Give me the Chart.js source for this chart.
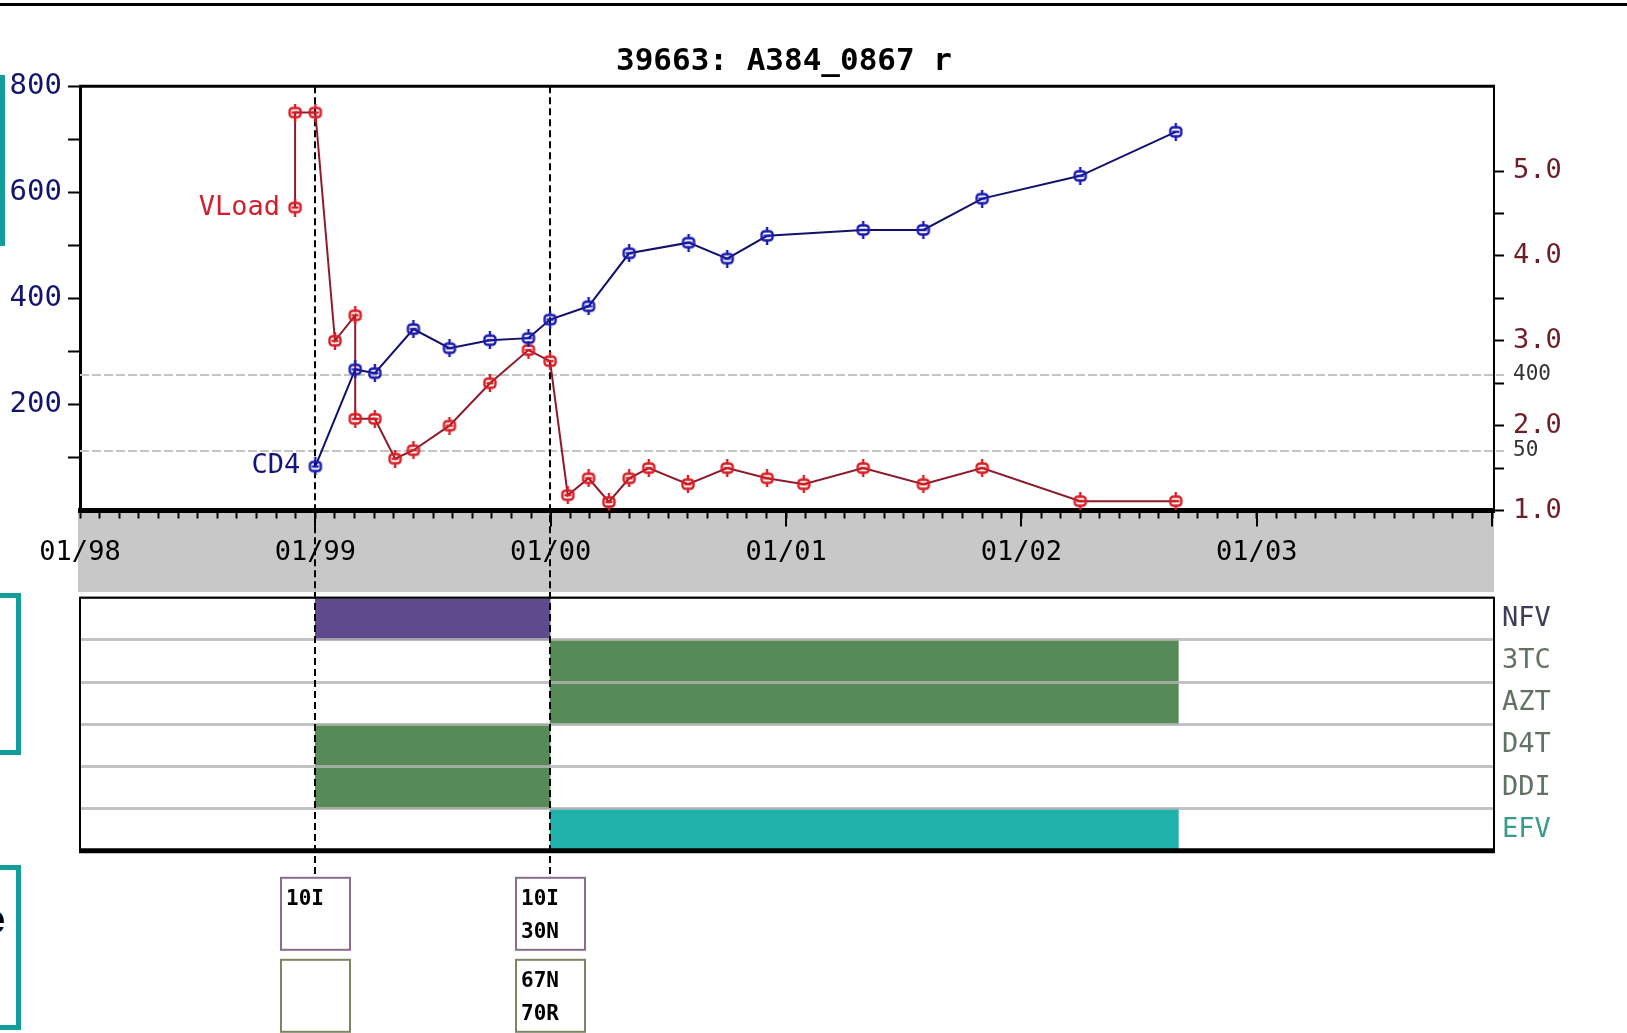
<!DOCTYPE html>
<html lang="en">
<head>
<meta charset="utf-8">
<title>39663: A384_0867</title>
<script src="https://cdn.jsdelivr.net/npm/chart.js@4.4.1/dist/chart.umd.min.js"></script>
<style>
  html, body { margin: 0; padding: 0; background: #fff; }
  body { position: relative; width: 1627px; height: 1033px; overflow: hidden; }
  #rule { position: absolute; left: 0; top: 3px; width: 1627px; height: 3px; background: #000; }
  .edge { position: absolute; left: 0; background: #129c9a; }
  .bracket { position: absolute; left: 0; width: 21px; box-sizing: border-box;
             border: 5px solid #129c9a; border-left: none; }
  #clipped { position: absolute; left: -17px; top: 899px; font: bold 40px "Liberation Sans", sans-serif;
             line-height: 1; color: #000; }
  canvas { position: absolute; left: 0; }
  #timeline { top: 0; }
  #therapy { top: 592px; }
</style>
</head>
<body>
<div id="rule"></div>
<div class="edge" style="top:75px;width:5px;height:171px"></div>
<div class="bracket" style="top:593px;height:162px"></div>
<div class="bracket" style="top:865px;height:165px"></div>
<div id="clipped">e</div>
<canvas id="timeline" width="1568" height="592"></canvas>
<canvas id="therapy" width="1568" height="441"></canvas>
<script>
// ---- patient record ----
const CD4_DATES = ['1999-01-01','1999-03-02','1999-04-02','1999-06-01','1999-07-27','1999-09-28',
  '1999-11-27','1999-12-31','2000-02-28','2000-05-01','2000-08-02','2000-10-01','2000-12-02',
  '2001-04-29','2001-08-01','2001-11-01','2002-04-01','2002-08-28'];
const CD4_COUNTS = [83, 266, 259, 342, 306, 321, 325, 360, 385, 485, 505, 475, 518, 529, 529, 588, 631, 714];

const VLOAD_DATES = ['1998-11-30','1998-11-30','1999-01-01','1999-02-01','1999-03-02','1999-03-02',
  '1999-04-02','1999-05-03','1999-06-01','1999-07-27','1999-09-28','1999-11-27','1999-12-31',
  '2000-01-28','2000-02-28','2000-03-31','2000-05-01','2000-06-01','2000-08-01','2000-10-01',
  '2000-12-02','2001-01-29','2001-04-29','2001-08-01','2001-11-01','2002-04-01','2002-08-28'];
const VLOAD_LOG10 = [4.57, 5.69, 5.69, 3.00, 3.30, 2.08, 2.08, 1.61, 1.71, 2.00, 2.50, 2.89, 2.76,
  1.18, 1.38, 1.10, 1.38, 1.50, 1.31, 1.50, 1.38, 1.31, 1.50, 1.31, 1.50, 1.11, 1.11];

const REF_LOADS = [400, 50];

const EVENT_DATES = ['1999-01-01', '1999-12-31'];
const PR_MUTATIONS = [['10I'], ['10I', '30N']];
const RT_MUTATIONS = [[], ['67N', '70R']];

const DRUGS = ['NFV', '3TC', 'AZT', 'D4T', 'DDI', 'EFV'];
const DRUG_STARTS = ['1999-01-01', '1999-12-31', '1999-12-31', '1999-01-01', '1999-01-01', '1999-12-31'];
const DRUG_STOPS  = ['1999-12-31', '2002-09-01', '2002-09-01', '1999-12-31', '1999-12-31', '2002-09-01'];

const X_START = '1998-01-01';
const X_END = '2004-01-04';
const X_TICK_LABELS = ['01/98', '01/99', '01/00', '01/01', '01/02', '01/03'];
const CD4_TICK_LABELS = ['200', '400', '600', '800'];
const VL_TICK_LABELS = ['1.0', '2.0', '3.0', '4.0', '5.0'];
const TITLE = '39663: A384_0867 r';

// ---- styling ----
const DRUG_COLORS = ['#5e4a8c', '#568a56', '#568a56', '#568a56', '#568a56', '#20b2aa'];
const DRUG_LABEL_COLORS = ['#3c3c5c', '#627262', '#627262', '#627262', '#627262', '#3a9a8c'];
const MONO = "'DejaVu Sans Mono', monospace";

// months elapsed since the start of the time axis
function toMonths(iso) {
  const [y, m, d] = iso.split('-').map(Number);
  const [y0, m0] = X_START.split('-').map(Number);
  const dim = new Date(Date.UTC(y, m, 0)).getUTCDate();
  return (y - y0) * 12 + (m - m0) + (d - 1) / dim;
}
const X_MIN = toMonths(X_START);
const X_MAX = toMonths(X_END);

// rounded box marker with a centre bar and short stubs above and below
function marker(color) {
  const c = document.createElement('canvas');
  c.width = 16; c.height = 18;
  const g = c.getContext('2d');
  g.strokeStyle = color; g.lineWidth = 2.4;
  g.beginPath();
  g.roundRect(2.5, 4.5, 11, 9, 3);
  g.moveTo(8, 0); g.lineTo(8, 4.5);
  g.moveTo(8, 13.5); g.lineTo(8, 18);
  g.moveTo(4.5, 9); g.lineTo(11.5, 9);
  g.stroke();
  return c;
}

const timelineDecor = {
  id: 'timelineDecor',
  beforeDraw(chart) {
    const { ctx, chartArea: a } = chart;
    ctx.save();
    ctx.fillStyle = '#c8c8c8';
    ctx.fillRect(a.left - 2, a.bottom, a.right - a.left + 2, chart.height - a.bottom);
    ctx.restore();
  },
  beforeDatasetsDraw(chart) {
    const { ctx, chartArea: a, scales } = chart;
    ctx.save();
    // viral-load reference levels
    ctx.strokeStyle = '#c4c4c4';
    ctx.lineWidth = 2;
    ctx.setLineDash([9, 3]);
    ctx.font = '21px ' + MONO;
    ctx.fillStyle = '#333';
    ctx.textBaseline = 'middle';
    ctx.textAlign = 'left';
    REF_LOADS.forEach(v => {
      const y = Math.round(scales.yR.getPixelForValue(Math.log10(v)));
      ctx.beginPath(); ctx.moveTo(a.left, y); ctx.lineTo(a.right + 10, y); ctx.stroke();
      ctx.fillText(String(v), a.right + 19, y);
    });
    // longer year ticks
    ctx.setLineDash([]);
    ctx.strokeStyle = '#000';
    for (let m = 12; m < X_MAX; m += 12) {
      const x = Math.round(scales.x.getPixelForValue(m));
      ctx.beginPath(); ctx.moveTo(x, a.bottom); ctx.lineTo(x, a.bottom + 16); ctx.stroke();
    }
    // therapy change lines
    ctx.setLineDash([7, 4]);
    EVENT_DATES.forEach(d => {
      const x = Math.round(scales.x.getPixelForValue(toMonths(d)));
      ctx.beginPath(); ctx.moveTo(x, a.top); ctx.lineTo(x, chart.height); ctx.stroke();
    });
    ctx.restore();
  },
  afterDatasetsDraw(chart) {
    const { ctx, chartArea: a } = chart;
    ctx.save();
    ctx.strokeStyle = '#000';
    ctx.lineWidth = 3;
    ctx.beginPath(); ctx.moveTo(a.left - 1, a.top); ctx.lineTo(a.right + 1, a.top); ctx.stroke();
    ctx.font = '27px ' + MONO;
    ctx.textAlign = 'right';
    ctx.textBaseline = 'middle';
    chart.data.datasets.forEach((ds, i) => {
      const p = chart.getDatasetMeta(i).data[0];
      ctx.fillStyle = ds.nameColor;
      ctx.fillText(ds.label, p.x - 15, p.y);
    });
    ctx.restore();
  }
};

new Chart(document.getElementById('timeline'), {
  type: 'line',
  data: {
    datasets: [
      {
        label: 'CD4',
        yAxisID: 'yL',
        data: CD4_DATES.map((d, i) => ({ x: toMonths(d), y: CD4_COUNTS[i] })),
        borderColor: '#12126c',
        borderWidth: 2,
        pointStyle: marker('#1a1ab0'),
        nameColor: '#16167a',
        tension: 0,
        fill: false
      },
      {
        label: 'VLoad',
        yAxisID: 'yR',
        data: VLOAD_DATES.map((d, i) => ({ x: toMonths(d), y: VLOAD_LOG10[i] })),
        borderColor: '#8e1b2c',
        borderWidth: 2,
        pointStyle: marker('#d81e24'),
        nameColor: '#d0202e',
        tension: 0,
        fill: false
      }
    ]
  },
  options: {
    responsive: false,
    animation: false,
    devicePixelRatio: 1,
    layout: { padding: 0 },
    plugins: {
      legend: { display: false },
      tooltip: { enabled: false },
      title: {
        display: true,
        text: TITLE,
        color: '#000',
        font: { family: MONO, size: 31, weight: 'bold' },
        padding: { top: 43, bottom: 6 }
      }
    },
    scales: {
      x: {
        type: 'linear',
        position: 'bottom',
        min: X_MIN,
        max: X_MAX,
        afterFit(s) { s.height = 81.5; },
        ticks: {
          stepSize: 1,
          includeBounds: false,
          autoSkip: false,
          maxRotation: 0,
          minRotation: 0,
          padding: 18,
          color: '#000',
          font: { family: MONO, size: 27 },
          callback: v => (v % 12 === 0 && X_TICK_LABELS[v / 12]) || ''
        },
        grid: { drawOnChartArea: false, tickLength: 8, tickWidth: 2, tickColor: '#000' },
        border: { color: '#000', width: 5 }
      },
      yL: {
        position: 'left',
        min: 0,
        max: 800,
        afterFit(s) { s.width = 80; },
        ticks: {
          stepSize: 100,
          padding: 6,
          color: '#14146e',
          font: { family: MONO, size: 29 },
          callback: v => CD4_TICK_LABELS.includes(String(v)) ? String(v) : ''
        },
        grid: {
          drawOnChartArea: false, tickLength: 12, tickWidth: 2,
          tickColor: c => (c.tick && c.tick.value === 0) ? 'rgba(0,0,0,0)' : '#000'
        },
        border: { color: '#000', width: 3 }
      },
      yR: {
        position: 'right',
        min: 1,
        max: 6,
        afterFit(s) { s.width = 74; },
        ticks: {
          stepSize: 0.5,
          padding: 9,
          color: '#6e1e28',
          font: { family: MONO, size: 27 },
          callback: v => VL_TICK_LABELS.includes(v.toFixed(1)) ? v.toFixed(1) : ''
        },
        grid: {
          drawOnChartArea: false, tickLength: 10, tickWidth: 2,
          tickColor: c => (c.tick && c.tick.value > 5) ? 'rgba(0,0,0,0)' : '#000'
        },
        border: { color: '#000', width: 2 }
      }
    }
  },
  plugins: [timelineDecor]
});

const therapyDecor = {
  id: 'therapyDecor',
  afterDraw(chart) {
    const { ctx, chartArea: a, scales: { x } } = chart;
    ctx.save();
    ctx.strokeStyle = '#000';
    ctx.lineWidth = 2;
    ctx.beginPath();
    ctx.moveTo(a.left, a.bottom); ctx.lineTo(a.left, a.top);
    ctx.lineTo(a.right, a.top); ctx.lineTo(a.right, a.bottom);
    ctx.stroke();
    ctx.lineWidth = 5;
    ctx.beginPath(); ctx.moveTo(a.left - 1, a.bottom); ctx.lineTo(a.right + 1, a.bottom); ctx.stroke();

    const boxW = 69, boxH = 72, gap = 10;
    const top1 = a.bottom + 27, top2 = top1 + boxH + gap;
    EVENT_DATES.forEach((d, i) => {
      const cx = Math.round(x.getPixelForValue(toMonths(d)));
      ctx.strokeStyle = '#000';
      ctx.lineWidth = 2;
      ctx.setLineDash([7, 4]);
      ctx.beginPath(); ctx.moveTo(cx, 0); ctx.lineTo(cx, top1); ctx.stroke();
      ctx.setLineDash([]);
      const left = Math.round(cx - boxW / 2);
      [[PR_MUTATIONS[i], top1, '#8a6c8c'], [RT_MUTATIONS[i], top2, '#7c8462']].forEach(([muts, top, col]) => {
        ctx.strokeStyle = col;
        ctx.lineWidth = 2;
        ctx.strokeRect(left, top, boxW, boxH);
        ctx.fillStyle = '#000';
        ctx.font = 'bold 21px ' + MONO;
        ctx.textAlign = 'left';
        ctx.textBaseline = 'middle';
        muts.forEach((m, j) => ctx.fillText(m, left + 5, top + 22 + j * 33));
      });
    });
    ctx.restore();
  }
};

new Chart(document.getElementById('therapy'), {
  type: 'bar',
  data: {
    labels: DRUGS,
    datasets: [{
      data: DRUGS.map((d, i) => [toMonths(DRUG_STARTS[i]), toMonths(DRUG_STOPS[i])]),
      backgroundColor: DRUG_COLORS,
      borderWidth: 0,
      barPercentage: 1,
      categoryPercentage: 1
    }]
  },
  options: {
    indexAxis: 'y',
    responsive: false,
    animation: false,
    devicePixelRatio: 1,
    layout: { padding: { left: 80, top: 5.7, bottom: 182.2, right: 0 } },
    plugins: { legend: { display: false }, tooltip: { enabled: false } },
    scales: {
      x: { type: 'linear', min: X_MIN, max: X_MAX, display: false },
      y: {
        position: 'right',
        afterFit(s) { s.width = 74; s.paddingTop = 0; s.paddingBottom = 0; },
        ticks: {
          padding: 8,
          font: { family: MONO, size: 27 },
          color: c => DRUG_LABEL_COLORS[c.index]
        },
        grid: { offset: true, color: 'rgba(180,180,180,0.8)', lineWidth: 3, drawTicks: false, z: 1 },
        border: { display: false }
      }
    }
  },
  plugins: [therapyDecor]
});
</script>
</body>
</html>
